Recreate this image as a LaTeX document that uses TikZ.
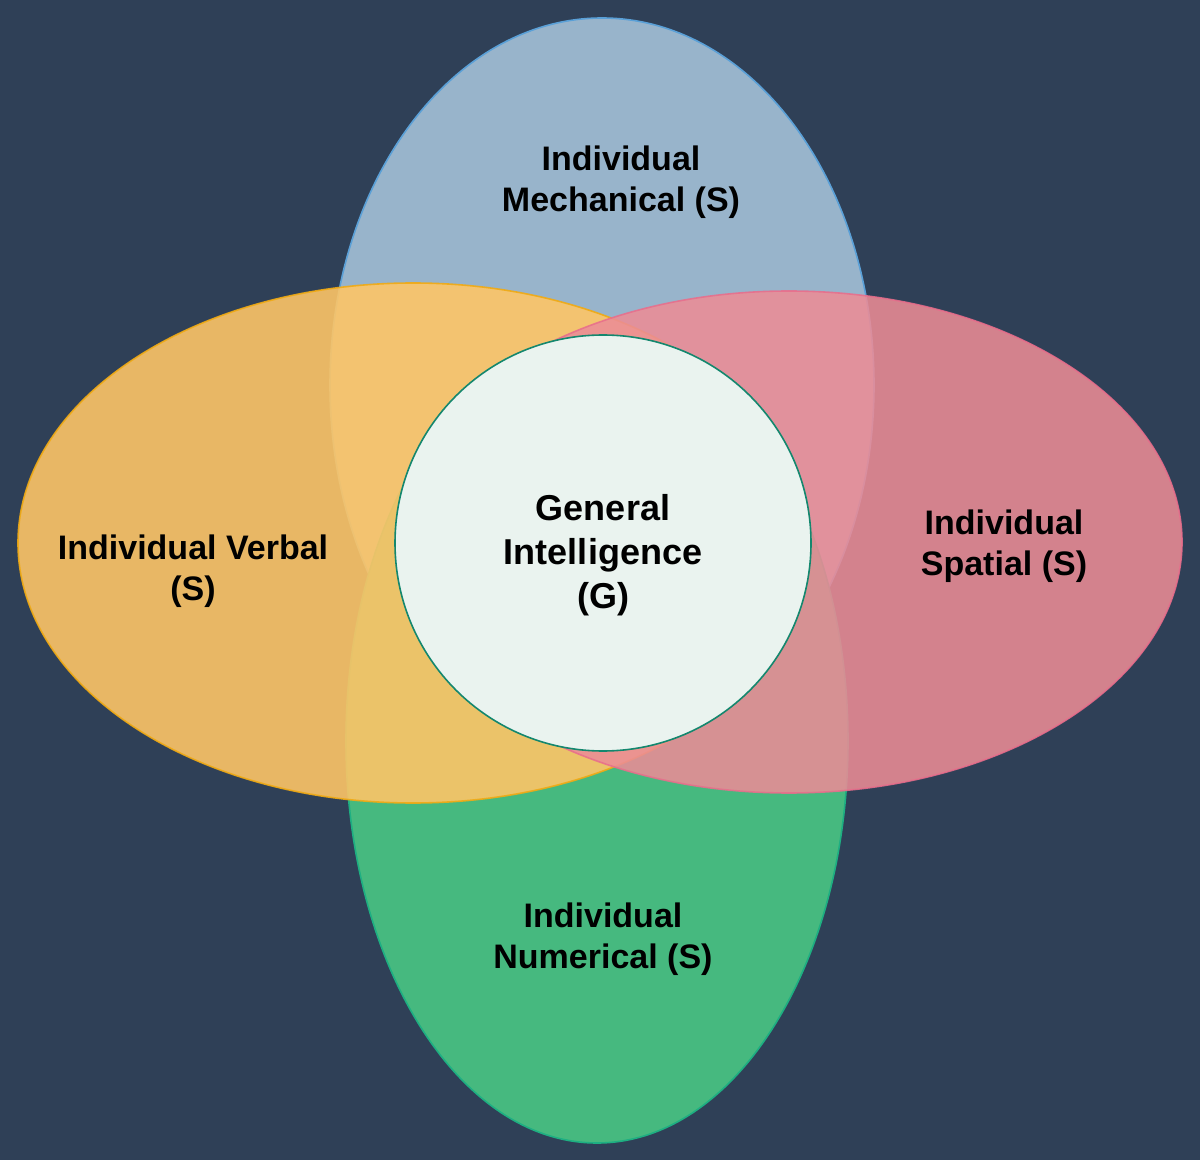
\documentclass[tikz,border=0pt]{standalone}
\usepackage{fontspec}
\setmainfont{Liberation Sans}
\usetikzlibrary{shapes.geometric}
\definecolor{bgc}{RGB}{47,64,87}
\definecolor{bluef}{RGB}{152,180,203}
\definecolor{blues}{RGB}{90,160,215}
\definecolor{greenf}{RGB}{70,185,127}
\definecolor{greens}{RGB}{30,175,130}
\definecolor{orangef}{RGB}{253,197,103}
\definecolor{oranges}{RGB}{240,170,20}
\definecolor{pinkf}{RGB}{236,140,150}
\definecolor{pinks}{RGB}{232,110,140}
\definecolor{circf}{RGB}{234,243,239}
\definecolor{circs}{RGB}{20,135,110}
\tikzset{
  blob/.style={ellipse, inner sep=0pt, line width=0.8pt},
  sidetext/.style={align=center, text=black, font=\fontsize{17}{20.5}\selectfont\bfseries},
  centertext/.style={align=center, text=black, font=\fontsize{18}{22}\selectfont\bfseries}
}
\begin{document}
\begin{tikzpicture}[x=0.5pt,y=-0.5pt]
\fill[bgc] (0,0) rectangle (1200,1160);
\useasboundingbox (0,0) rectangle (1200,1160);
\node[blob, fill=bluef, draw=blues, minimum width=272pt, minimum height=367pt] (mech) at (602,385) {};
\node[blob, fill=greenf, draw=greens, minimum width=251pt, minimum height=402pt] (num) at (597,741) {};
\node[blob, fill=orangef, draw=oranges, opacity=0.9, minimum width=395pt, minimum height=260pt] (verb) at (413,543) {};
\node[blob, fill=pinkf, draw=pinks, opacity=0.87, minimum width=393pt, minimum height=251pt] (spat) at (789,542) {};
\node[circle, inner sep=0pt, fill=circf, draw=circs, line width=0.8pt, minimum size=208pt] (gen) at (603,543) {};
\node[sidetext] (tmech) at (621,182) {Individual\\Mechanical (S)};
\node[sidetext] (tverb) at (193,571) {Individual Verbal\\(S)};
\node[sidetext] (tspat) at (1004,546) {Individual\\Spatial (S)};
\node[sidetext] (tnum) at (603,939) {Individual\\Numerical (S)};
\node[centertext] (tgen) at (603,555) {General\\Intelligence\\(G)};
\end{tikzpicture}
\end{document}
